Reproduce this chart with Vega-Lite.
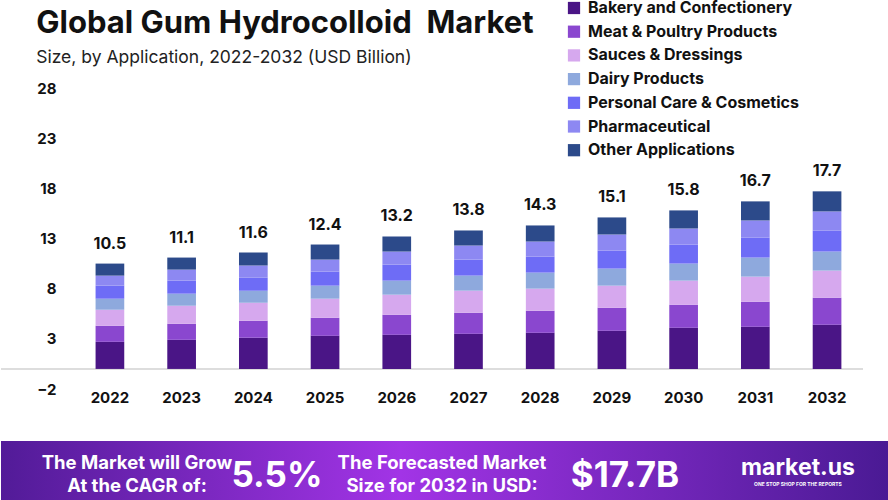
{
  "$schema": "https://vega.github.io/schema/vega-lite/v6.json",
  "padding": 0,
  "background": "white",
  "spacing": 36,
  "config": {
    "font": "Inter",
    "view": {"stroke": null},
    "text": {"font": "Inter"}
  },
  "datasets": {
    "apps": [
      {"year": "2022", "Bakery and Confectionery": 2.7, "Meat & Poultry Products": 1.6, "Sauces & Dressings": 1.6, "Dairy Products": 1.1, "Personal Care & Cosmetics": 1.3, "Pharmaceutical": 1.0, "Other Applications": 1.2},
      {"year": "2023", "Bakery and Confectionery": 2.9, "Meat & Poultry Products": 1.6, "Sauces & Dressings": 1.8, "Dairy Products": 1.2, "Personal Care & Cosmetics": 1.3, "Pharmaceutical": 1.1, "Other Applications": 1.2},
      {"year": "2024", "Bakery and Confectionery": 3.1, "Meat & Poultry Products": 1.7, "Sauces & Dressings": 1.8, "Dairy Products": 1.2, "Personal Care & Cosmetics": 1.3, "Pharmaceutical": 1.2, "Other Applications": 1.3},
      {"year": "2025", "Bakery and Confectionery": 3.3, "Meat & Poultry Products": 1.8, "Sauces & Dressings": 1.9, "Dairy Products": 1.3, "Personal Care & Cosmetics": 1.4, "Pharmaceutical": 1.2, "Other Applications": 1.5},
      {"year": "2026", "Bakery and Confectionery": 3.4, "Meat & Poultry Products": 2.0, "Sauces & Dressings": 2.0, "Dairy Products": 1.4, "Personal Care & Cosmetics": 1.6, "Pharmaceutical": 1.3, "Other Applications": 1.5},
      {"year": "2027", "Bakery and Confectionery": 3.5, "Meat & Poultry Products": 2.1, "Sauces & Dressings": 2.2, "Dairy Products": 1.5, "Personal Care & Cosmetics": 1.6, "Pharmaceutical": 1.4, "Other Applications": 1.5},
      {"year": "2028", "Bakery and Confectionery": 3.6, "Meat & Poultry Products": 2.2, "Sauces & Dressings": 2.2, "Dairy Products": 1.6, "Personal Care & Cosmetics": 1.6, "Pharmaceutical": 1.5, "Other Applications": 1.6},
      {"year": "2029", "Bakery and Confectionery": 3.8, "Meat & Poultry Products": 2.3, "Sauces & Dressings": 2.2, "Dairy Products": 1.7, "Personal Care & Cosmetics": 1.8, "Pharmaceutical": 1.6, "Other Applications": 1.7},
      {"year": "2030", "Bakery and Confectionery": 4.1, "Meat & Poultry Products": 2.3, "Sauces & Dressings": 2.4, "Dairy Products": 1.7, "Personal Care & Cosmetics": 1.9, "Pharmaceutical": 1.6, "Other Applications": 1.8},
      {"year": "2031", "Bakery and Confectionery": 4.2, "Meat & Poultry Products": 2.5, "Sauces & Dressings": 2.5, "Dairy Products": 1.9, "Personal Care & Cosmetics": 2.0, "Pharmaceutical": 1.7, "Other Applications": 1.9},
      {"year": "2032", "Bakery and Confectionery": 4.4, "Meat & Poultry Products": 2.7, "Sauces & Dressings": 2.7, "Dairy Products": 1.9, "Personal Care & Cosmetics": 2.1, "Pharmaceutical": 1.9, "Other Applications": 2.0}
    ],
    "segmentOrder": [
      {"segment": "Bakery and Confectionery", "rank": 1},
      {"segment": "Meat & Poultry Products", "rank": 2},
      {"segment": "Sauces & Dressings", "rank": 3},
      {"segment": "Dairy Products", "rank": 4},
      {"segment": "Personal Care & Cosmetics", "rank": 5},
      {"segment": "Pharmaceutical", "rank": 6},
      {"segment": "Other Applications", "rank": 7}
    ],
    "totals": [
      {"year": "2022", "total": 10.5},
      {"year": "2023", "total": 11.1},
      {"year": "2024", "total": 11.6},
      {"year": "2025", "total": 12.4},
      {"year": "2026", "total": 13.2},
      {"year": "2027", "total": 13.8},
      {"year": "2028", "total": 14.3},
      {"year": "2029", "total": 15.1},
      {"year": "2030", "total": 15.8},
      {"year": "2031", "total": 16.7},
      {"year": "2032", "total": 17.7}
    ],
    "footer": [
      {"slot": "cagr_label", "text": "The Market will Grow\nAt the CAGR of:"},
      {"slot": "cagr", "text": "5.5%"},
      {"slot": "size_label", "text": "The Forecasted Market\nSize for 2032 in USD:"},
      {"slot": "size", "text": "$17.7B"},
      {"slot": "brand", "text": "market.us"},
      {"slot": "tagline", "text": "ONE STOP SHOP FOR THE REPORTS"}
    ]
  },
  "vconcat": [
    {
      "width": 862,
      "height": 301,
      "title": {
        "text": "Global Gum Hydrocolloid\u00a0 Market",
        "subtitle": "Size, by Application, 2022-2032 (USD Billion)",
        "anchor": "start",
        "frame": "bounds",
        "dx": 36,
        "fontSize": 31,
        "fontWeight": "bold",
        "color": "#111111",
        "subtitleFontSize": 17.5,
        "subtitleColor": "#222222",
        "subtitlePadding": 9,
        "offset": 14
      },
      "layer": [
        {
          "data": {"name": "totals"},
          "mark": {"type": "rule", "color": "#dddddd", "strokeWidth": 1.5},
          "encoding": {
            "y": {"datum": 0, "type": "quantitative"}
          }
        },
        {
          "data": {"name": "apps"},
          "transform": [
            {"fold": ["Bakery and Confectionery", "Meat & Poultry Products", "Sauces & Dressings", "Dairy Products", "Personal Care & Cosmetics", "Pharmaceutical", "Other Applications"], "as": ["segment", "value"]},
            {"lookup": "segment", "from": {"data": {"name": "segmentOrder"}, "key": "segment", "fields": ["rank"]}}
          ],
          "mark": {"type": "bar"},
          "encoding": {
            "x": {
              "field": "year", "type": "nominal",
              "scale": {"paddingInner": 0.6, "paddingOuter": 0.81, "align": 0.814},
              "axis": {"title": null, "labelAngle": 0, "labelFontSize": 15, "labelFontWeight": "bold", "labelColor": "#111111", "labelPadding": 1, "ticks": false, "domain": false}
            },
            "y": {
              "field": "value", "type": "quantitative", "stack": "zero",
              "scale": {"domain": [-2, 28], "nice": false, "zero": false},
              "axis": {"title": null, "values": [-2, 3, 8, 13, 18, 23, 28], "labelFontSize": 15, "labelFontWeight": "bold", "labelColor": "#111111", "labelPadding": 18, "ticks": false, "domain": false, "grid": false, "offset": -73}
            },
            "order": {"field": "rank", "type": "quantitative", "sort": "ascending"},
            "color": {
              "field": "segment", "type": "nominal",
              "scale": {
                "domain": ["Bakery and Confectionery", "Meat & Poultry Products", "Sauces & Dressings", "Dairy Products", "Personal Care & Cosmetics", "Pharmaceutical", "Other Applications"],
                "range": ["#4a1586", "#8a47cf", "#d6a8ee", "#8ea9dd", "#6e6cf6", "#8d88f2", "#2c4a8a"]
              },
              "legend": {
                "title": null, "orient": "none", "legendX": 565, "legendY": -88,
                "symbolType": "square", "symbolSize": 150, "symbolStrokeWidth": 0,
                "labelFontSize": 16, "labelFontWeight": "bold", "labelColor": "#111111", "labelLimit": 400,
                "rowPadding": 7.7, "labelOffset": 6
              }
            }
          }
        },
        {
          "data": {"name": "totals"},
          "mark": {"type": "text", "baseline": "bottom", "dy": -12, "fontSize": 16, "fontWeight": "bold", "color": "#111111"},
          "encoding": {
            "x": {"field": "year", "type": "nominal"},
            "y": {"field": "total", "type": "quantitative"},
            "text": {"field": "total", "type": "quantitative", "format": ".1f"}
          }
        }
      ]
    },
    {
      "width": 888,
      "height": 60,
      "data": {"name": "footer"},
      "layer": [
        {
          "data": {"values": [{}]},
          "mark": {
            "type": "rect",
            "color": {
              "gradient": "linear",
              "stops": [
                {"offset": 0, "color": "#521b98"},
                {"offset": 0.45, "color": "#a234e6"},
                {"offset": 1, "color": "#4a1a94"}
              ]
            }
          },
          "encoding": {}
        },
        {
          "transform": [{"filter": "datum.slot === 'cagr_label'"}],
          "mark": {"type": "text", "color": "white", "fontWeight": "bold", "fontSize": 18.5, "lineBreak": "\n", "lineHeight": 23, "align": "center", "dx": 18, "dy": -8},
          "encoding": {
            "x": {"field": "slot", "type": "nominal", "scale": {"type": "point", "domain": ["cagr_label", "cagr", "size_label", "size", "brand"], "padding": 0.724}, "axis": null},
            "text": {"field": "text"}
          }
        },
        {
          "transform": [{"filter": "datum.slot === 'size_label'"}],
          "mark": {"type": "text", "color": "white", "fontWeight": "bold", "fontSize": 18.5, "lineBreak": "\n", "lineHeight": 23, "align": "center", "dx": -3, "dy": -8},
          "encoding": {
            "x": {"field": "slot", "type": "nominal", "axis": null},
            "text": {"field": "text"}
          }
        },
        {
          "transform": [{"filter": "datum.slot === 'cagr'"}],
          "mark": {"type": "text", "color": "white", "fontWeight": "bold", "fontSize": 35, "align": "center", "dx": -5, "dy": 5},
          "encoding": {
            "x": {"field": "slot", "type": "nominal", "axis": null},
            "text": {"field": "text"}
          }
        },
        {
          "transform": [{"filter": "datum.slot === 'size'"}],
          "mark": {"type": "text", "color": "white", "fontWeight": "bold", "fontSize": 35, "align": "center", "dx": 17, "dy": 5},
          "encoding": {
            "x": {"field": "slot", "type": "nominal", "axis": null},
            "text": {"field": "text"}
          }
        },
        {
          "transform": [{"filter": "datum.slot === 'brand'"}],
          "mark": {"type": "text", "color": "white", "fontWeight": "bold", "fontSize": 23, "align": "center", "dx": 27, "dy": -3},
          "encoding": {
            "x": {"field": "slot", "type": "nominal", "axis": null},
            "text": {"field": "text"}
          }
        },
        {
          "transform": [{"filter": "datum.slot === 'tagline'"}, {"calculate": "'brand'", "as": "slot"}],
          "mark": {"type": "text", "color": "white", "fontWeight": "bold", "fontSize": 5, "align": "center", "dx": 27, "dy": 13},
          "encoding": {
            "x": {"field": "slot", "type": "nominal", "axis": null},
            "text": {"field": "text"}
          }
        }
      ]
    }
  ]
}
